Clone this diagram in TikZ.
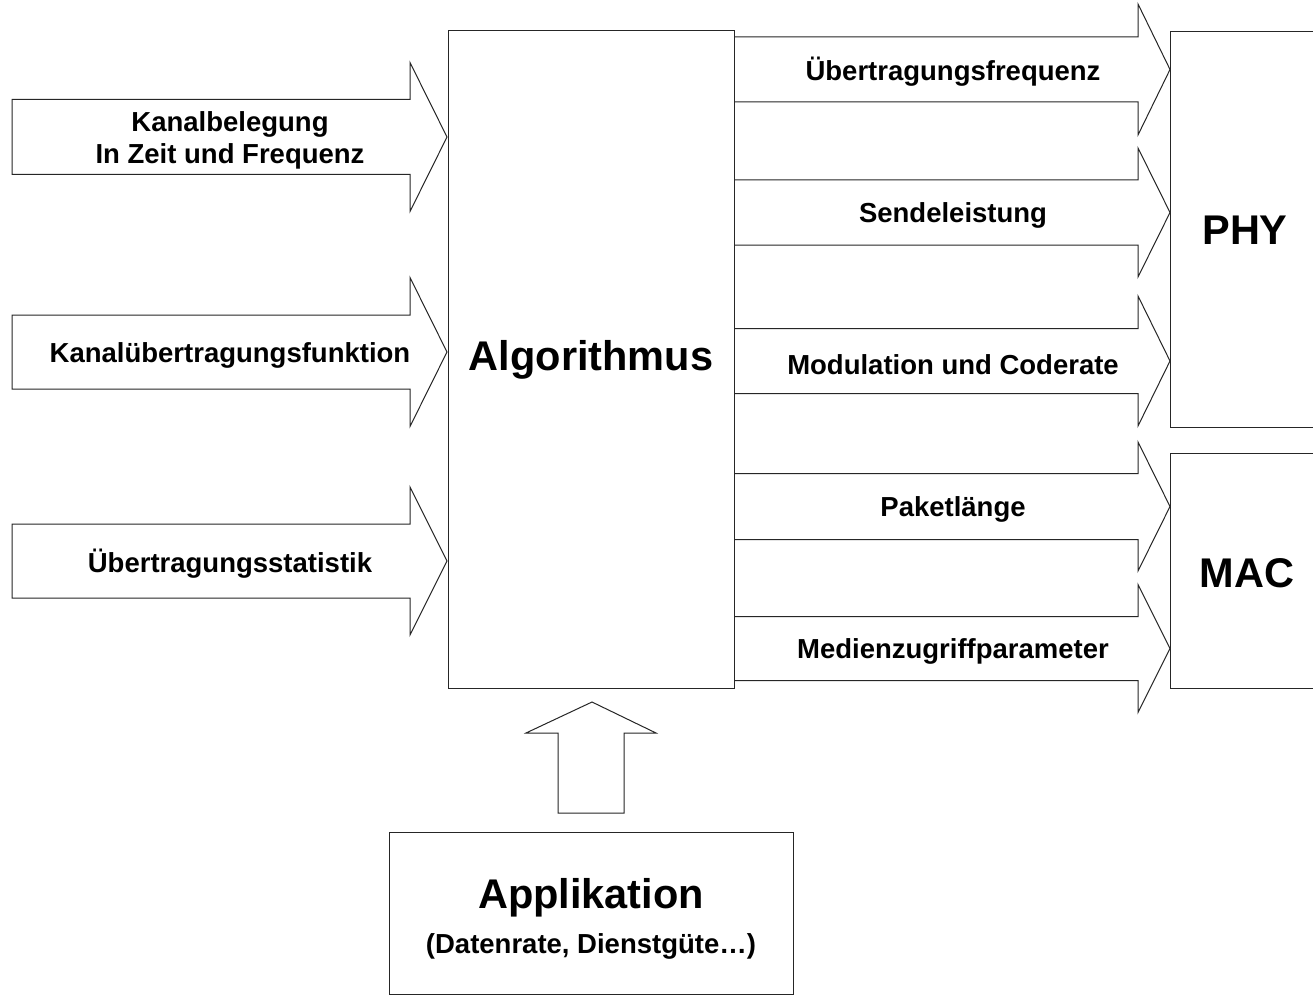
\documentclass[tikz,border=0pt]{standalone}
\usepackage{fontspec}
\setmainfont{Liberation Sans}
\tikzset{
  blk/.style={draw=black!85, line width=1pt, line join=miter, fill=white},
  lbl/.style={font=\fontsize{27.5}{32}\selectfont\bfseries, align=center, inner sep=0pt},
  big/.style={font=\fontsize{41.5}{48}\selectfont\bfseries, align=center, inner sep=0pt},
}
% #1 shaft start x, #2 head base x, #3 tip x, #4 centre y, #5 shaft half height, #6 head half height
\newcommand\myblockarrow[6]{%
  \draw[blk] (#1,#4-#5) -- (#2,#4-#5) -- (#2,#4-#6) -- (#3,#4) -- (#2,#4+#6)
    -- (#2,#4+#5) -- (#1,#4+#5) -- cycle;}
\begin{document}
\begin{tikzpicture}[x=1pt,y=-1pt]
\useasboundingbox (0,0) rectangle (1313,995);
\clip (0,0) rectangle (1313,995);
% left input arrows
\myblockarrow{12}{410}{447}{137}{37.5}{74.5}
\myblockarrow{12}{410}{447}{352}{37}{74.5}
\myblockarrow{12}{410}{447}{561}{37}{74}
% right output arrows
\myblockarrow{734}{1138}{1170}{69.5}{32.5}{65.5}
\myblockarrow{734}{1138}{1170}{212.5}{32.5}{64.5}
\myblockarrow{734}{1138}{1170}{361}{32.5}{65}
\myblockarrow{734}{1138}{1170}{506.5}{33}{64.5}
\myblockarrow{734}{1138}{1170}{648.5}{32}{64}
% boxes
\draw[blk] (448,31) rectangle (734,688);
\node[big] (algo) at (591,360) {Algorithmus};
\draw[blk] (1170,32) rectangle (1340,427);
\node[big] (phy) at (1245,230) {PHY};
\draw[blk] (1170,453) rectangle (1340,688);
\node[big] (mac) at (1247,573) {MAC};
\draw[blk] (389,832) rectangle (793,994);
\node[big] (app) at (591,898) {Applikation};
\node[lbl] (appsub) at (591,946) {(Datenrate, Dienstgüte…)};
% up arrow
\draw[blk] (558,813) -- (558,733) -- (526,733) -- (592,702) -- (656,733) -- (624,733) -- (624,813) -- cycle;
% labels
\node[lbl] (in1) at (230,140) {Kanalbelegung\\In Zeit und Frequenz};
\node[lbl] (in2) at (230,355) {Kanalübertragungsfunktion};
\node[lbl] (in3) at (230,564) {Übertragungsstatistik};
\node[lbl] (out1) at (953,72) {Übertragungsfrequenz};
\node[lbl] (out2) at (953,215) {Sendeleistung};
\node[lbl] (out3) at (953,365) {Modulation und Coderate};
\node[lbl] (out4) at (953,509) {Paketlänge};
\node[lbl] (out5) at (953,651) {Medienzugriffparameter};
\end{tikzpicture}
\end{document}
